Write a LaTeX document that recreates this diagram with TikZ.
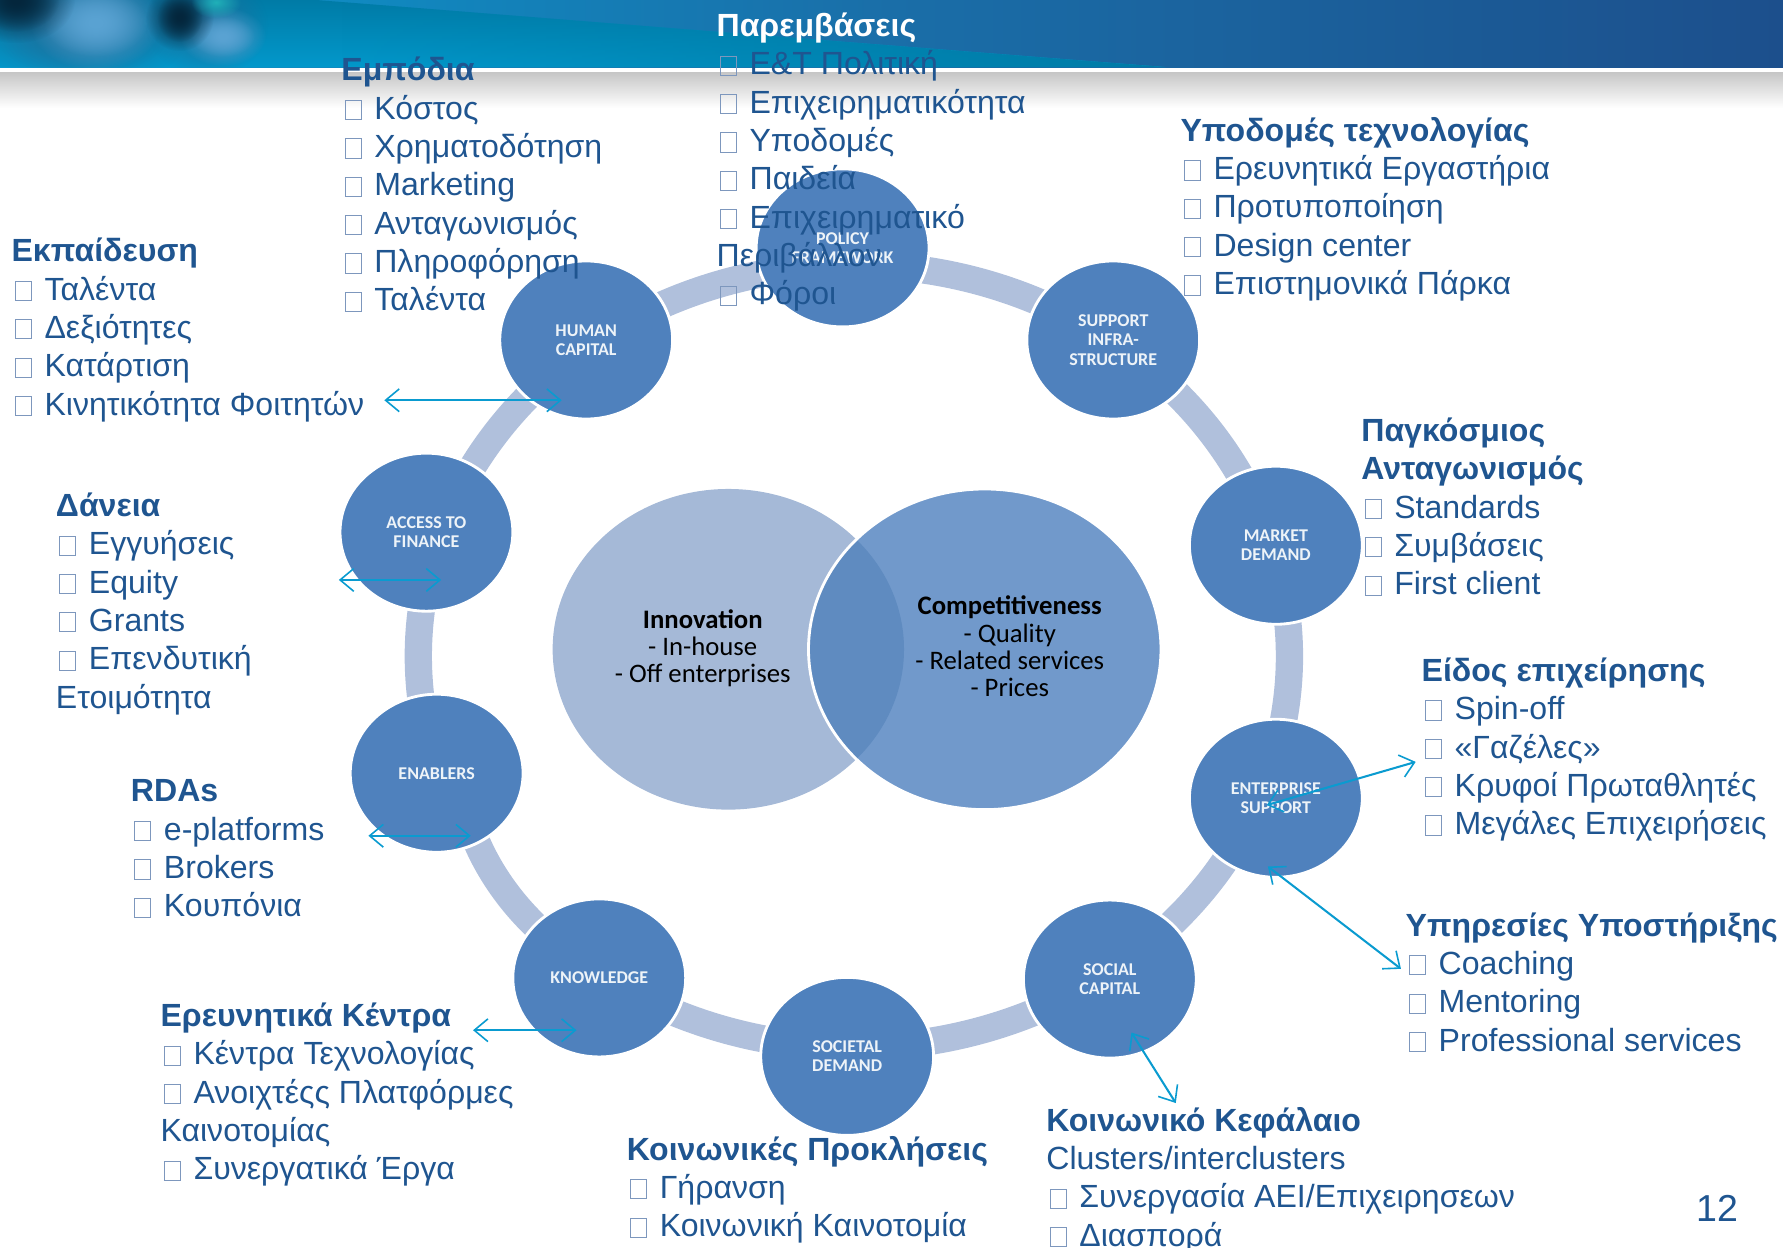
\documentclass[tikz,border=0pt]{standalone}
\usepackage{fontspec}
\setmainfont{Liberation Sans}
\newfontfamily\calib{Carlito}
\usetikzlibrary{arrows.meta,fadings,shapes.geometric}
\definecolor{txtblue}{HTML}{1F5590}
\definecolor{boxblue}{HTML}{7D97BD}
\definecolor{ringc}{HTML}{B0C0DC}
\definecolor{circc}{HTML}{4F81BD}
\definecolor{arrowc}{HTML}{0A9BD0}
\definecolor{innoc}{HTML}{A5B9D7}
\definecolor{compc}{HTML}{7199CB}
\definecolor{overc}{HTML}{5F8BC0}
\definecolor{hbaseA}{HTML}{0A9BD0}
\definecolor{hbaseB}{HTML}{1A6EA8}
\definecolor{hbaseC}{HTML}{1C4F8C}
\definecolor{wedgeT}{HTML}{007BA6}
\definecolor{wedgeB}{HTML}{0298CB}
\definecolor{swirlD}{HTML}{04263C}
\definecolor{swirlM}{HTML}{1F6F9C}
\definecolor{swirlL}{HTML}{5AA3D3}
\definecolor{swirlT}{HTML}{20B0B8}
\tikzfading[name=softblob,inner color=transparent!0,outer color=transparent!100]
\tikzfading[name=toright,left color=transparent!100,right color=transparent!0]
\newcommand{\bul}{\makebox[29pt][l]{\hspace{3pt}\textcolor{boxblue}{\fboxsep=0pt\fboxrule=0.9pt\fbox{\rule{0pt}{16pt}\hspace{13pt}}}}}
\newcommand{\hd}[1]{\rule{0pt}{24pt}{\bfseries #1}}
\tikzset{
  block/.style={anchor=north west,align=left,inner sep=0pt,text=txtblue,font=\fontsize{28.2}{33.7}\selectfont},
  ball/.style={ellipse,minimum width=152pt,minimum height=139pt,inner sep=0pt,fill=circc,draw=white,line width=2.5pt,text=white!90!circc,align=center,font=\calib\bfseries\fontsize{15.8}{17}\selectfont},
  link/.style={draw=arrowc,line width=1.8pt,{Straight Barb[length=12pt,width=20pt,line width=1.4pt]}-{Straight Barb[length=12pt,width=20pt,line width=1.4pt]}},
  venn/.style={align=center,text=black,font=\calib\fontsize{23.5}{24}\selectfont},
  ringseg/.style={draw=ringc,line width=24pt},
  blob/.style={path fading=softblob}
}
\begin{document}
\begin{tikzpicture}[x=1pt,y=-1pt]
\useasboundingbox (0,0) rectangle (1568,1097);
% header
\shade[top color=black!22,bottom color=white] (0,64) rectangle (1568,95);
\shade[left color=hbaseA,right color=hbaseC,middle color=hbaseB] (0,0) rectangle (1568,59);
\shade[top color=wedgeT,bottom color=wedgeB] (0,0) -- (278,0) -- (1025,59) -- (0,59) -- cycle;
\fill[color=wedgeT,path fading=toright] (300,2) -- (1025,59) -- (300,59) -- cycle;
\begin{scope}
\clip (0,0) rectangle (1568,59);
\fill[blob,color=swirlM] (72,16) ellipse [x radius=100,y radius=66];
\fill[blob,color=swirlM] (72,16) ellipse [x radius=85,y radius=52];
\fill[blob,color=swirlL] (84,20) ellipse [x radius=58,y radius=42];
\fill[blob,color=swirlL] (84,20) ellipse [x radius=46,y radius=30];
\fill[blob,color=swirlD] (14,0) ellipse [x radius=52,y radius=38];
\fill[blob,color=swirlD] (14,0) ellipse [x radius=38,y radius=28];
\fill[blob,color=swirlM] (182,22) ellipse [x radius=54,y radius=46];
\fill[blob,color=swirlL] (196,32) ellipse [x radius=38,y radius=26];
\fill[blob,color=swirlL] (196,32) ellipse [x radius=28,y radius=18];
\fill[blob,color=swirlD] (158,15) ellipse [x radius=30,y radius=30];
\fill[blob,color=swirlD] (158,15) ellipse [x radius=20,y radius=22];
\fill[blob,color=swirlT] (190,2) ellipse [x radius=22,y radius=14];
\end{scope}
% ring
\draw[ringseg] (589,888.8) arc [start angle=245,end angle=555,x radius=383pt,y radius=344pt];
\draw[ringseg] (415,730) .. controls (428,765) and (450,795) .. (475,818);
% balls
\node[ball] (policy) at (741,218) {POLICY\\FRAMEWORK};
\node[ball] (human) at (515.5,299) {HUMAN\\CAPITAL};
\node[ball] (support) at (979,299) {SUPPORT\\INFRA-\\STRUCTURE};
\node[ball] (market) at (1122,479.5) {MARKET\\DEMAND};
\node[ball] (enterprise) at (1122,702) {ENTERPRISE\\SUPPORT};
\node[ball] (social) at (976,861) {SOCIAL\\CAPITAL};
\node[ball] (societal) at (745,929) {SOCIETAL\\DEMAND};
\node[ball] (knowledge) at (527,860) {KNOWLEDGE};
\node[ball] (enablers) at (384,680) {ENABLERS};
\node[ball] (access) at (375,468) {ACCESS TO\\FINANCE};
% venn
\path[fill=innoc] (640.5,571) ellipse [x radius=154.5,y radius=141];
\path[fill=compc] (866,571) ellipse [x radius=155,y radius=141];
\begin{scope}
\clip (866,571) ellipse [x radius=155,y radius=141];
\path[fill=overc] (640.5,571) ellipse [x radius=154.5,y radius=141];
\end{scope}
\draw[white,line width=2.5pt] (866,571) ellipse [x radius=155,y radius=141];
\node[venn] (inno) at (618,570) {{\bfseries Innovation}\\- In-house\\- Off enterprises};
\node[venn] (comp) at (888,568.5) {{\bfseries Competitiveness}\\- Quality\\- Related services\\- Prices};
% text blocks
\node[block] (b1) at (630,8) {\rule{0pt}{24pt}\textcolor{white}{\bfseries Παρεμβάσεις}\\\bul Ε\&Τ Πολιτική\\\bul Επιχειρηματικότητα\\\bul Υποδομές\\\bul Παιδεία\\\bul Επιχειρηματικό\\Περιβάλλον\\\bul Φόροι};
\node[block] (b2) at (300,47) {\hd{Εμπόδια}\\\bul Κόστος\\\bul Χρηματοδότηση\\\bul Marketing\\\bul Ανταγωνισμός\\\bul Πληροφόρηση\\\bul Ταλέντα};
\node[block] (b3) at (1038,100) {\hd{Υποδομές τεχνολογίας}\\\bul Ερευνητικά Εργαστήρια\\\bul Προτυποποίηση\\\bul Design center\\\bul Επιστημονικά Πάρκα};
\node[block] (b4) at (10,206) {\hd{Εκπαίδευση}\\\bul Ταλέντα\\\bul Δεξιότητες\\\bul Κατάρτιση\\\bul Κινητικότητα Φοιτητών};
\node[block] (b5) at (1197,364) {\hd{Παγκόσμιος}\\\hd{Ανταγωνισμός}\\\bul Standards\\\bul Συμβάσεις\\\bul First client};
\node[block] (b6) at (49,430) {\hd{Δάνεια}\\\bul Εγγυήσεις\\\bul Equity\\\bul Grants\\\bul Επενδυτική\\Ετοιμότητα};
\node[block] (b7) at (1250,575) {\hd{Είδος επιχείρησης}\\\bul Spin-off\\\bul «Γαζέλες»\\\bul Κρυφοί Πρωταθλητές\\\bul Μεγάλες Επιχειρήσεις};
\node[block] (b8) at (115,681) {\hd{RDAs}\\\bul e-platforms\\\bul Brokers\\\bul Κουπόνια};
\node[block] (b9) at (1236,799) {\hd{Υπηρεσίες Υποστήριξης}\\\bul Coaching\\\bul Mentoring\\\bul Professional services};
\node[block] (b10) at (141,878.5) {\hd{Ερευνητικά Κέντρα}\\\bul Κέντρα Τεχνολογίας\\\bul Ανοιχτέςς Πλατφόρμες\\Καινοτομίας\\\bul Συνεργατικά Έργα};
\node[block] (b11) at (551,996) {\hd{Κοινωνικές Προκλήσεις}\\\bul Γήρανση\\\bul Κοινωνική Καινοτομία};
\node[block] (b12) at (920,970.5) {\hd{Κοινωνικό Κεφάλαιο}\\Clusters/interclusters\\\bul Συνεργασία ΑΕΙ/Επιχειρησεων\\\bul Διασπορά};
\node[anchor=center,inner sep=0pt,text=txtblue,font=\fontsize{33}{36}\selectfont] (pagenum) at (1510,1063) {12};
% arrows
\coordinate (a1) at (338,352); \coordinate (a2) at (494,352);
\coordinate (c1) at (298,510); \coordinate (c2) at (388,510);
\coordinate (e1) at (324,735); \coordinate (e2) at (414,735);
\coordinate (k1) at (416,906); \coordinate (k2) at (507,906);
\coordinate (s1) at (995,908); \coordinate (s2) at (1034,970);
\coordinate (p1) at (1114,708); \coordinate (p2) at (1245,670);
\coordinate (q1) at (1115,762); \coordinate (q2) at (1232,852);
\draw[link] (a1) -- (a2);
\draw[link] (c1) -- (c2);
\draw[link] (e1) -- (e2);
\draw[link] (k1) -- (k2);
\draw[link] (s1) -- (s2);
\draw[link] (p1) -- (p2);
\draw[link] (q1) -- (q2);
\end{tikzpicture}
\end{document}
